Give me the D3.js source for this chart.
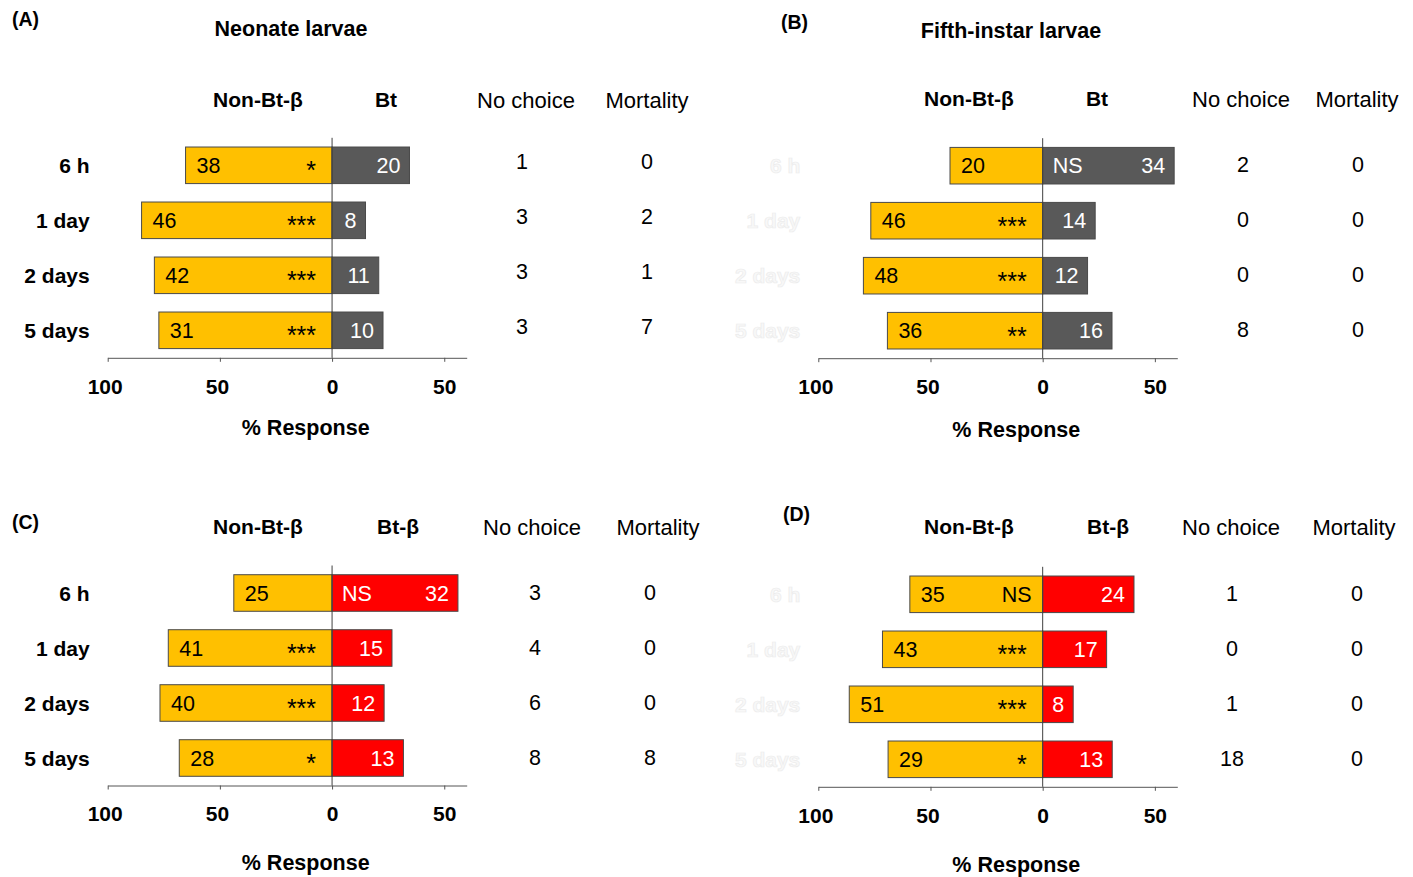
<!DOCTYPE html>
<html>
<head>
<meta charset="utf-8">
<script src="https://cdn.jsdelivr.net/npm/d3@7"></script>
<style>
  body { margin: 0; background: #fff; }
  text { font-family: "Liberation Sans", Arial, sans-serif; }
</style>
</head>
<body>
<div id="root"></div>
<script>
const width = 1413;
const height = 877;

// data
const categories = ['6 h', '1 day', '2 days', '5 days'];

// (A) neonate larvae, Non-Bt-β vs Bt
const aNonBt = [38, 46, 42, 31];
const aBt = [20, 8, 11, 10];
const aNoChoice = [1, 3, 3, 3];
const aMortality = [0, 2, 1, 7];
const aNonBtPct = [65.3, 84.9, 79.2, 77.2];
const aBtPct = [34.5, 14.9, 20.8, 22.7];
const aSig = ['*', '***', '***', '***'];
const aSigSide = ['L', 'L', 'L', 'L'];

// (B) fifth-instar larvae, Non-Bt-β vs Bt
const bNonBt = [20, 46, 48, 36];
const bBt = [34, 14, 12, 16];
const bNoChoice = [2, 0, 0, 8];
const bMortality = [0, 0, 0, 0];
const bNonBtPct = [41.3, 76.6, 79.9, 69.2];
const bBtPct = [58.6, 23.4, 20.0, 30.9];
const bSig = ['NS', '***', '***', '**'];
const bSigSide = ['R', 'L', 'L', 'L'];

// (C) neonate larvae, Non-Bt-β vs Bt-β
const cNonBt = [25, 41, 40, 28];
const cBt = [32, 15, 12, 13];
const cNoChoice = [3, 4, 6, 8];
const cMortality = [0, 0, 0, 8];
const cNonBtPct = [43.8, 73.0, 76.7, 68.1];
const cBtPct = [56.1, 26.7, 23.2, 31.8];
const cSig = ['NS', '***', '***', '*'];
const cSigSide = ['R', 'L', 'L', 'L'];

// (D) fifth-instar larvae, Non-Bt-β vs Bt-β
const dNonBt = [35, 43, 51, 29];
const dBt = [24, 17, 8, 13];
const dNoChoice = [1, 0, 1, 18];
const dMortality = [0, 0, 0, 0];
const dNonBtPct = [59.2, 71.4, 86.2, 68.9];
const dBtPct = [40.7, 28.5, 13.6, 31.0];
const dSig = ['NS', '***', '***', '*'];
const dSigSide = ['L', 'L', 'L', 'L'];

const tickVals = [-100, -50, 0, 50];

const panels = [
  {tag: '(A)', tagPos: [12, 19], title: 'Neonate larvae', titlePos: [291, 28],
   heads: ['Non-Bt-β', 'Bt', 'No choice', 'Mortality'], headX: [258, 386, 526, 647], headY: 100,
   left: 107.7, y0: 137.8, ncX: 522, mX: 647, numOff: -4, respOff: 70, faint: false, rightColor: '#595959',
   nonBt: aNonBt, bt: aBt, nc: aNoChoice, mort: aMortality, lp: aNonBtPct, rp: aBtPct, sig: aSig, side: aSigSide},
  {tag: '(B)', tagPos: [781, 22], title: 'Fifth-instar larvae', titlePos: [1011, 30],
   heads: ['Non-Bt-β', 'Bt', 'No choice', 'Mortality'], headX: [969, 1097, 1241, 1357], headY: 99,
   left: 818.3, y0: 138.2, ncX: 1243, mX: 1358, numOff: -1, respOff: 71, faint: true, rightColor: '#595959',
   nonBt: bNonBt, bt: bBt, nc: bNoChoice, mort: bMortality, lp: bNonBtPct, rp: bBtPct, sig: bSig, side: bSigSide},
  {tag: '(C)', tagPos: [12, 522], title: null,
   heads: ['Non-Bt-β', 'Bt-β', 'No choice', 'Mortality'], headX: [258, 398, 532, 658], headY: 527,
   left: 107.7, y0: 565.5, ncX: 535, mX: 650, numOff: -1, respOff: 77, faint: false, rightColor: '#ff0000',
   nonBt: cNonBt, bt: cBt, nc: cNoChoice, mort: cMortality, lp: cNonBtPct, rp: cBtPct, sig: cSig, side: cSigSide},
  {tag: '(D)', tagPos: [783, 514], title: null,
   heads: ['Non-Bt-β', 'Bt-β', 'No choice', 'Mortality'], headX: [969, 1108, 1231, 1354], headY: 527,
   left: 818.3, y0: 566.8, ncX: 1232, mX: 1357, numOff: -1, respOff: 78, faint: true, rightColor: '#ff0000',
   nonBt: dNonBt, bt: dBt, nc: dNoChoice, mort: dMortality, lp: dNonBtPct, rp: dBtPct, sig: dSig, side: dSigSide}
];

const svg = d3.select('#root')
  .append('svg')
  .attr('width', width).attr('height', height);

svg.append('rect').attr('width', width).attr('height', height).attr('fill', '#fff');

panels.forEach(p => {
  const g = svg.append('g');

  const x = d3.scaleLinear().domain([-100, 60]).range([p.left, p.left + 359]);
  const y = d3.scaleBand().domain(categories).range([p.y0, p.y0 + 220])
    .paddingInner(0.335).paddingOuter(0.1675);
  const rows = categories.map((c, i) => ({cat: c, i: i}));
  const cy = d => y(d.cat) + y.bandwidth() / 2;

  // panel letter, title, column headers
  g.append('text').attr('x', p.tagPos[0]).attr('y', p.tagPos[1]).attr('dy', '0.35em')
    .attr('font-size', 19.5).attr('font-weight', 'bold').text(p.tag);
  if (p.title) {
    g.append('text').attr('x', p.titlePos[0]).attr('y', p.titlePos[1]).attr('dy', '0.35em')
      .attr('text-anchor', 'middle').attr('font-size', 21.5).attr('font-weight', 'bold').text(p.title);
  }
  g.selectAll('.head').data(p.heads).enter().append('text')
    .attr('x', (d, i) => p.headX[i]).attr('y', p.headY).attr('dy', '0.35em')
    .attr('text-anchor', 'middle')
    .attr('font-size', (d, i) => i < 2 ? 21 : 22)
    .attr('font-weight', (d, i) => i < 2 ? 'bold' : 'normal')
    .text(d => d);

  // bars
  g.selectAll('.lbar').data(rows).enter().append('rect')
    .attr('x', d => x(-p.lp[d.i]))
    .attr('y', d => y(d.cat))
    .attr('width', d => x(0) - x(-p.lp[d.i]))
    .attr('height', y.bandwidth())
    .attr('fill', '#ffc000').attr('stroke', '#4a4a4a').attr('stroke-width', 1);
  g.selectAll('.rbar').data(rows).enter().append('rect')
    .attr('x', x(0))
    .attr('y', d => y(d.cat))
    .attr('width', d => x(p.rp[d.i]) - x(0))
    .attr('height', y.bandwidth())
    .attr('fill', p.rightColor).attr('stroke', '#4a4a4a').attr('stroke-width', 1);

  // zero line
  g.append('line').attr('x1', x(0)).attr('x2', x(0))
    .attr('y1', p.y0).attr('y2', p.y0 + 220)
    .attr('stroke', '#404040').attr('stroke-width', 1);

  // counts in bars
  g.selectAll('.lval').data(rows).enter().append('text')
    .attr('x', d => x(-p.lp[d.i]) + 11).attr('y', cy).attr('dy', '0.36em')
    .attr('font-size', 21.5).attr('fill', '#000')
    .text(d => p.nonBt[d.i]);
  g.selectAll('.rval').data(rows).enter().append('text')
    .attr('x', d => x(p.rp[d.i]) - 9).attr('y', cy).attr('dy', '0.36em')
    .attr('text-anchor', 'end').attr('font-size', 21.5).attr('fill', '#fff')
    .text(d => p.bt[d.i]);

  // significance marks
  const isNS = d => p.sig[d.i] === 'NS';
  g.selectAll('.sig').data(rows).enter().append('text')
    .attr('x', d => p.side[d.i] === 'R' ? x(0) + 10 : x(0) - (isNS(d) ? 11 : 16))
    .attr('y', d => isNS(d) ? cy(d) : cy(d) + 14)
    .attr('dy', d => isNS(d) ? '0.36em' : 0)
    .attr('text-anchor', d => p.side[d.i] === 'R' ? 'start' : 'end')
    .attr('font-size', d => isNS(d) ? 21.5 : 25)
    .attr('fill', d => p.side[d.i] === 'R' ? '#fff' : '#000')
    .text(d => p.sig[d.i]);

  // no choice and mortality columns
  g.selectAll('.nc').data(rows).enter().append('text')
    .attr('x', p.ncX).attr('y', d => cy(d) + p.numOff).attr('dy', '0.36em')
    .attr('text-anchor', 'middle').attr('font-size', 21.5)
    .text(d => p.nc[d.i]);
  g.selectAll('.mort').data(rows).enter().append('text')
    .attr('x', p.mX).attr('y', d => cy(d) + p.numOff).attr('dy', '0.36em')
    .attr('text-anchor', 'middle').attr('font-size', 21.5)
    .text(d => p.mort[d.i]);

  // category labels (near invisible on the right-hand panels)
  g.selectAll('.cat').data(rows).enter().append('text')
    .attr('x', p.left - 18).attr('y', cy).attr('dy', '0.36em')
    .attr('text-anchor', 'end').attr('font-size', 21).attr('font-weight', 'bold')
    .attr('fill', p.faint ? '#f8f8f8' : '#000')
    .attr('stroke', p.faint ? '#ececec' : 'none').attr('stroke-width', 0.7)
    .text(d => d.cat);

  // x axis
  const axis = d3.axisBottom(x).tickValues(tickVals).tickFormat(d => Math.abs(d))
    .tickSize(4).tickSizeOuter(0);
  const ax = g.append('g')
    .attr('transform', `translate(0, ${p.y0 + 220})`)
    .call(axis);
  ax.select('.domain').attr('stroke', '#555');
  ax.selectAll('.tick line').attr('stroke', '#555');
  ax.selectAll('.tick text')
    .attr('y', 21)
    .attr('dx', d => d < 0 ? -3 : 0)
    .attr('font-size', 21).attr('font-weight', 'bold').attr('fill', '#000')
    .attr('font-family', '"Liberation Sans", Arial, sans-serif');

  g.append('text')
    .attr('x', p.left + 198).attr('y', p.y0 + 220 + p.respOff).attr('dy', '0.35em')
    .attr('text-anchor', 'middle').attr('font-size', 21.5).attr('font-weight', 'bold')
    .text('% Response');
});
</script>
</body>
</html>
